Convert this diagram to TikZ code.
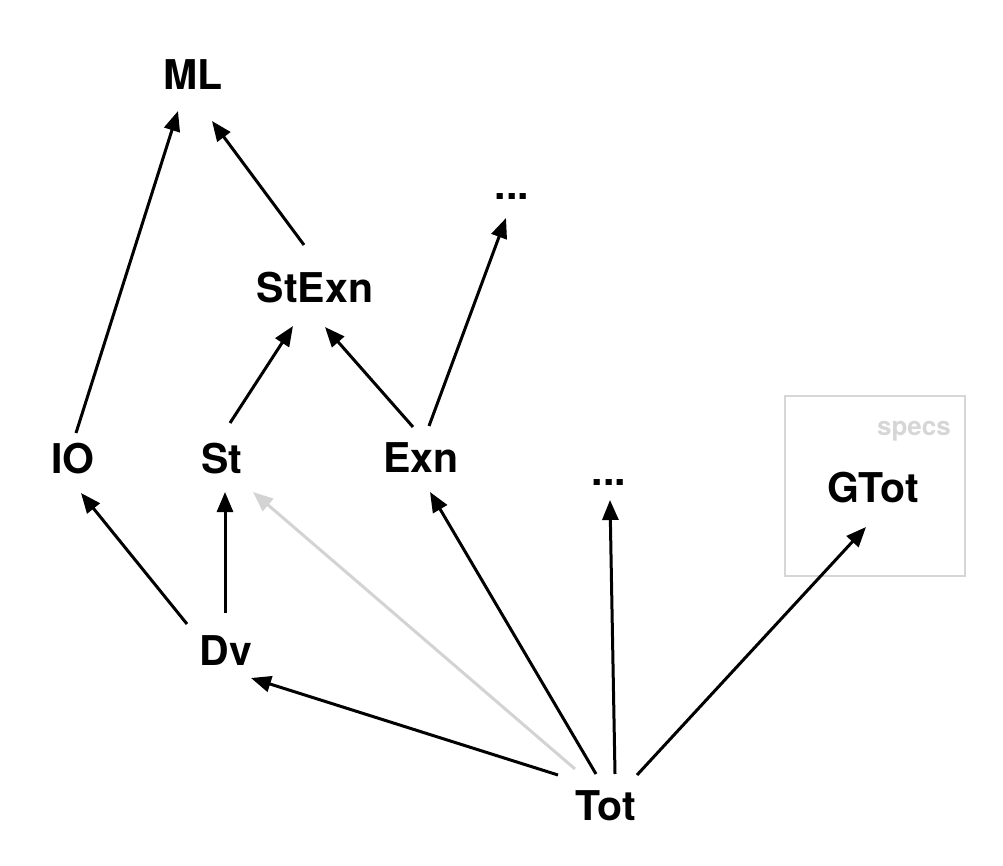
\documentclass[tikz,border=0pt]{standalone}
\usepackage{fontspec}
\setmainfont{TeX Gyre Heros}
\usetikzlibrary{arrows.meta}
\definecolor{boxgrey}{HTML}{D6D6D6}
\definecolor{arrgrey}{HTML}{D3D3D3}
\begin{document}
\begin{tikzpicture}[x=1pt,y=-1pt,
  lbl/.style={inner sep=0pt, outer sep=0pt, text height=30pt, text depth=0pt, anchor=base,
    font=\fontsize{41}{48}\selectfont\bfseries},
  arr/.style={line width=3pt, -{Triangle[length=20pt,width=16pt]}},
  garr/.style={arr, draw=arrgrey, color=arrgrey}
]
\useasboundingbox (0,0) rectangle (1003,866);
% specs box
\node[draw=boxgrey, line width=2pt, minimum width=180pt, minimum height=180pt, inner sep=0pt] (specs) at (875,486) {};
\node[anchor=base east, inner sep=0pt, text=boxgrey, font=\fontsize{26}{30}\selectfont\bfseries] (specslbl) at (951,435) {specs};
% nodes
\node[lbl] (ML) at (193,90) {ML};
\node[lbl] (StExn) at (315,303) {StExn};
\node[lbl] (D1) at (512,200) {...};
\node[lbl] (IO) at (73,473) {IO};
\node[lbl] (St) at (222,473) {St};
\node[lbl] (Exn) at (421,472) {Exn};
\node[lbl] (D2) at (609,485) {...};
\node[lbl] (GTot) at (873,502) {GTot};
\node[lbl] (Dv) at (226,665) {Dv};
\node[lbl] (Tot) at (606,820) {Tot};
% edges
\draw[arr] ([shift={(3,-25)}]IO.center) -- ([shift={(-15,36)}]ML.center);
\draw[arr] ([shift={(-11,-43)}]StExn.center) -- ([shift={(19,46)}]ML.center);
\draw[arr] ([shift={(8,-35)}]St.center) -- ([shift={(-22,38)}]StExn.center);
\draw[arr] ([shift={(-8,-30)}]Exn.center) -- ([shift={(10,39)}]StExn.center);
\draw[arr] ([shift={(8,-31)}]Exn.center) -- ([shift={(-6,33)}]D1.center);
\draw[arr] ([shift={(-39,-26)}]Dv.center) -- ([shift={(8,35)}]IO.center);
\draw[arr] ([shift={(-1,-37)}]Dv.center) -- ([shift={(3,34)}]St.center);
\draw[arr] ([shift={(-48,-30)}]Tot.center) -- ([shift={(25,28)}]Dv.center);
\draw[garr] ([shift={(-31,-36)}]Tot.center) -- ([shift={(31,34)}]St.center);
\draw[arr] ([shift={(-10,-31)}]Tot.center) -- ([shift={(9,35)}]Exn.center);
\draw[arr] ([shift={(9,-31)}]Tot.center) -- ([shift={(1,30)}]D2.center);
\draw[arr] ([shift={(31,-30)}]Tot.center) -- ([shift={(-7,40)}]GTot.center);
\end{tikzpicture}
\end{document}
